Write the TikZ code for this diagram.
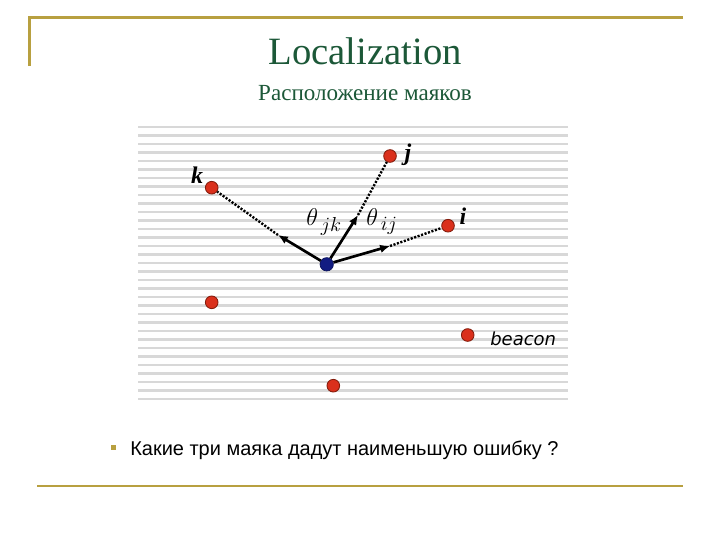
\documentclass[tikz,border=0pt]{standalone}
\usepackage{fontspec}
\setmainfont{Liberation Serif}
\newfontfamily\listfont{Liberation Sans}
\newfontfamily\notefont{DejaVu Sans}
\usepackage{tikz}
\usetikzlibrary{arrows,arrows.meta}

\definecolor{gold}{RGB}{184,160,64}
\definecolor{titlegreen}{RGB}{28,88,56}
\definecolor{stripe}{RGB}{216,216,216}
\definecolor{beaconred}{RGB}{218,48,28}
\definecolor{beaconrim}{RGB}{130,28,12}
\definecolor{nodeblue}{RGB}{18,28,130}

\begin{document}
\begin{tikzpicture}[x=0.025cm, y=-0.025cm,
		beacon/.style={circle, fill=beaconred, draw=beaconrim, line width=0.6pt, minimum size=9pt, inner sep=0pt},
		bearing/.style={-{Latex[length=7pt,width=6pt]}, line width=1.9pt},
		sight/.style={line width=1.7pt, dash pattern=on 1.5pt off 1.1pt},
		letter/.style={font=\fontsize{17}{20}\selectfont\bfseries\itshape, inner sep=0pt, anchor=base},
		angle/.style={font=\fontsize{19}{22}\selectfont, inner sep=0pt, anchor=base west}]
		\useasboundingbox (0,0) rectangle (720,540);

		% frame
		\draw[gold, line width=1.8pt] (29.3,66) -- (29.3,17.7) -- (683,17.7);
		\draw[gold, line width=1.5pt] (37,486) -- (683,486);

		\node[titlegreen, font=\fontsize{27.5}{32}\selectfont, anchor=base, inner sep=0pt] (title) at (365,64.3) {Localization};
		\node[titlegreen, font=\fontsize{16.4}{20}\selectfont, anchor=base, inner sep=0pt] (subtitle) at (365,100) {Расположение маяков};

		% striped field
		\foreach \n in {0,...,32}
			\draw[stripe, line width=1.8pt] (138,{127+8.5*\n}) -- (568,{127+8.5*\n});

		\node[beacon] (bk) at (211.7,187.7) {};
		\node[beacon] (bj) at (390,156) {};
		\node[beacon] (bi) at (448,225.7) {};
		\node[beacon] (bw) at (211.7,302.3) {};
		\node[beacon] (be) at (467.7,335) {};
		\node[beacon] (bs) at (333.3,385.7) {};
		\node[circle, fill=nodeblue, draw=nodeblue!70!black, line width=0.5pt, minimum size=9.5pt, inner sep=0pt] (c) at (326.7,264.3) {};

		\coordinate (tk) at (278,235);
		\coordinate (tj) at (358,215);
		\coordinate (ti) at (390,246);

		\draw[bearing] (c) -- (tk);
		\draw[bearing] (c) -- (tj);
		\draw[bearing] (c) -- (ti);
		\draw[sight] (tk) -- (bk);
		\draw[sight] (tj) -- (bj);
		\draw[sight] (ti) -- (bi);

		\node[letter] (lk) at (197,183.3) {k};
		\node[letter] (lj) at (408,160) {j};
		\node[letter] (li) at (463,224.3) {i};
		\node[angle] (ajk) at (306,225.5) {$\theta_{\,jk}$};
		\node[angle] (aij) at (366,225.5) {$\theta_{\,ij}$};
		\node[font=\notefont\itshape\fontsize{12.8}{15}\selectfont, anchor=base west, inner sep=0pt] (lbeacon) at (490,345) {beacon};

		% question
		\node[fill=gold, minimum size=3.8pt, inner sep=0pt] (dot) at (113.5,447.5) {};
		\node[font=\listfont\fontsize{14.2}{17}\selectfont, anchor=base west, inner sep=0pt] (question) at (130,455) {Какие три маяка дадут наименьшую ошибку ?};
	\end{tikzpicture}
\end{document}
